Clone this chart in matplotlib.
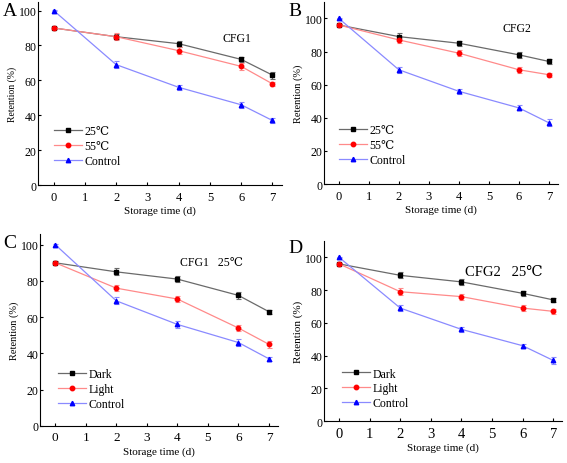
import numpy as np
import matplotlib
matplotlib.use("Agg")
import matplotlib.pyplot as plt

plt.rcParams['font.family'] = ['Liberation Serif', 'DejaVu Serif']
plt.rcParams['font.size'] = 8

days = [0, 2, 4, 6, 7]

# panel A (CFG1, temperature)
a_25 = [90, 85, 81, 72, 63]
a_55 = [90, 85, 77, 68, 58]
a_ctrl = [100, 69, 56, 46, 37]
a_25_err = [0.8, 1.5, 1.8, 1.5, 2.0]
a_55_err = [0.8, 2.0, 2.0, 1.8, 1.2]
a_ctrl_err = [0.5, 1.8, 1.5, 1.8, 1.2]

# panel B (CFG2, temperature)
b_25 = [96, 89, 85, 78, 74]
b_55 = [96, 87, 79, 69, 66]
b_ctrl = [100, 69, 56, 46, 37]
b_25_err = [0.8, 2.0, 1.5, 2.0, 1.5]
b_55_err = [0.8, 2.0, 2.0, 1.8, 1.2]
b_ctrl_err = [0.5, 1.8, 1.5, 1.5, 2.0]

# panel C (CFG1 25C, light)
c_dark = [90, 85, 81, 72, 63]
c_light = [90, 76, 70, 54, 45]
c_ctrl = [100, 69, 56, 46, 37]
c_dark_err = [0.8, 2.0, 1.8, 2.0, 1.2]
c_light_err = [0.8, 1.8, 1.8, 1.8, 2.0]
c_ctrl_err = [0.5, 2.0, 2.0, 1.8, 1.2]

# panel D (CFG2 25C, light)
d_dark = [96, 89, 85, 78, 74]
d_light = [96, 79, 76, 69, 67]
d_ctrl = [100, 69, 56, 46, 37]
d_dark_err = [0.8, 1.8, 1.8, 1.5, 1.0]
d_light_err = [0.8, 2.0, 1.8, 1.8, 1.5]
d_ctrl_err = [0.5, 1.8, 1.5, 1.2, 2.0]

styles = [
    dict(marker='s', color='#000000', line='#6a6a6a'),
    dict(marker='o', color='#ff0000', line='#ff8a8a'),
    dict(marker='^', color='#0000ff', line='#8a8aff'),
]


def draw(ax, series, errs, labels, ylim, note, note_xy, note_size, leg_xy,
         xtick_size, ylab_size):
    handles = []
    for y, e, lab, st in zip(series, errs, labels, styles):
        ax.errorbar(days, y, yerr=e, fmt='none', ecolor=st['line'],
                    elinewidth=0.8, capsize=1.8, capthick=0.8, zorder=2)
        h, = ax.plot(days, y, color=st['line'], lw=0.9, marker=st['marker'],
                     ms=3.2, mfc=st['color'], mec=st['color'], label=lab, zorder=3)
        handles.append(h)
    ax.set_xlim(-0.5, 7.3)
    ax.set_ylim(*ylim)
    ax.set_xticks(range(8))
    ax.set_yticks(range(0, 101, 20))
    ax.set_xlabel('Storage time (d)', labelpad=2, fontsize=8)
    ax.set_ylabel('Retention (%)', labelpad=1, fontsize=ylab_size)
    ax.spines['top'].set_visible(False)
    ax.spines['right'].set_visible(False)
    ax.tick_params(direction='in', length=2.5, width=0.8)
    ax.tick_params(axis='x', labelsize=xtick_size, pad=4)
    ax.tick_params(axis='y', labelsize=8.5, pad=1)
    ax.legend(handles=handles, loc='upper left', bbox_to_anchor=leg_xy,
              frameon=False, handlelength=2.4, handletextpad=0.2,
              labelspacing=0.25, borderpad=0, fontsize=8.5)
    ax.text(note_xy[0], note_xy[1], note, transform=ax.transAxes,
            fontsize=note_size, va='center', ha='left')


fig = plt.figure(figsize=(5.67, 4.64), dpi=100)
ax_a = fig.add_axes([0.067, 0.599, 0.43, 0.395])
ax_b = fig.add_axes([0.571, 0.601, 0.413, 0.393])
ax_c = fig.add_axes([0.0705, 0.080, 0.42, 0.414])
ax_d = fig.add_axes([0.571, 0.0905, 0.421, 0.388])

draw(ax_a, [a_25, a_55, a_ctrl], [a_25_err, a_55_err, a_ctrl_err],
     ['25\u2103', '55\u2103', 'Control'], (0, 105), 'CFG1',
     (0.755, 0.80), 8.5, (0.04, 0.36), 9, 7)
draw(ax_b, [b_25, b_55, b_ctrl], [b_25_err, b_55_err, b_ctrl_err],
     ['25\u2103', '55\u2103', 'Control'], (0, 110), 'CFG2',
     (0.765, 0.857), 8.5, (0.04, 0.36), 9, 7.5)
draw(ax_c, [c_dark, c_light, c_ctrl], [c_dark_err, c_light_err, c_ctrl_err],
     ['Dark', 'Light', 'Control'], (0, 106), 'CFG1   25\u2103',
     (0.59, 0.854), 8.5, (0.05, 0.33), 9.5, 7.5)
draw(ax_d, [d_dark, d_light, d_ctrl], [d_dark_err, d_light_err, d_ctrl_err],
     ['Dark', 'Light', 'Control'], (0, 110), 'CFG2   25\u2103',
     (0.59, 0.833), 10.5, (0.05, 0.33), 10.5, 8)

# panel letters in figure pixels
for letter, px, py in [('A', 3, 3), ('B', 288, 3), ('C', 3, 235), ('D', 288, 240)]:
    fig.text(px / 567, 1 - py / 464, letter, fontsize=14, va='top', ha='left')

fig.savefig('out.png', dpi=100)
